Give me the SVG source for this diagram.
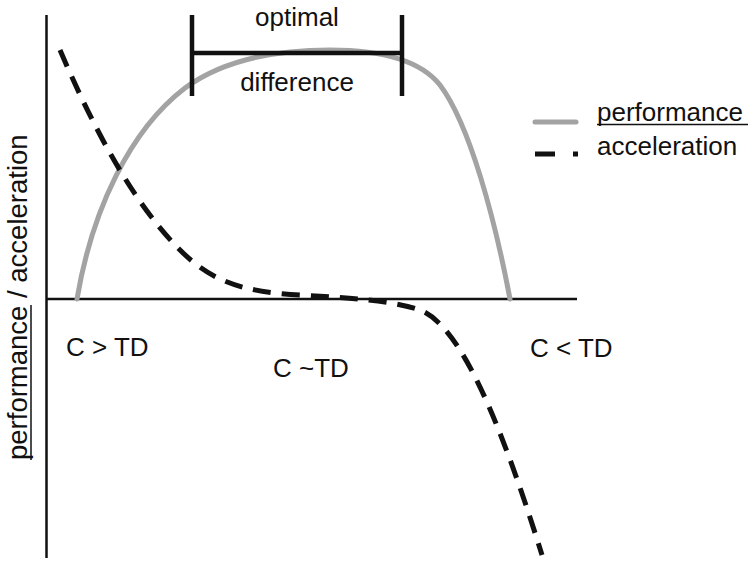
<svg xmlns="http://www.w3.org/2000/svg" width="751" height="561" viewBox="0 0 751 561">
<style>
text{font-family:"Liberation Sans",Arial,sans-serif;font-size:26px;fill:#111}
.axis{stroke:#111;stroke-width:2.5;fill:none}
.perf{stroke:#a3a3a3;stroke-width:5;fill:none;stroke-linecap:round}
.acc{stroke:#111;stroke-width:5;fill:none;stroke-dasharray:18 11}
.br{stroke:#111;stroke-width:4.5;fill:none}
</style>
<rect width="751" height="561" fill="#fff"/>
<g id="axes">
<line class="axis" x1="46.5" y1="15" x2="46.5" y2="558"/>
<line class="axis" x1="46" y1="299" x2="577" y2="299"/>
</g>
<g id="curves">
<path id="performance" class="perf" d="M77,299 C92,210 130,130 185,88 C230,55 290,50 330,50 C380,50 420,60 440,85 C470,125 495,220 510,299"/>
<path id="acceleration" class="acc" d="M60,50 C90,120 130,200 180,250 C210,280 240,292 300,295 C350,298 390,300 420,310 C460,325 500,420 542,555"/>
</g>
<g id="bracket">
<line class="br" x1="192" y1="53" x2="402" y2="53"/>
<line class="br" x1="192" y1="15" x2="192" y2="96"/>
<line class="br" x1="402" y1="15" x2="402" y2="96"/>
<text x="297" y="26" text-anchor="middle">optimal</text>
<text x="297" y="91" text-anchor="middle">difference</text>
</g>
<g id="legend">
<line class="perf" x1="535" y1="122" x2="576" y2="122" stroke-linecap="butt"/>
<text x="597" y="121">performance</text>
<line x1="597" y1="124.5" x2="748" y2="124.5" stroke="#111" stroke-width="1.5"/>
<line class="acc" x1="535" y1="154" x2="578" y2="154" style="stroke-dasharray:20 18"/>
<text x="597" y="155">acceleration</text>
</g>
<g id="ylabel">
<text transform="translate(27,460) rotate(-90)" style="font-size:27.5px">performance / acceleration</text>
<line x1="31" y1="460" x2="31" y2="305" stroke="#111" stroke-width="1.5"/>
</g>
<g id="labels">
<text x="66" y="356">C &gt; TD</text>
<text x="273" y="377">C ~TD</text>
<text x="530" y="357">C &lt; TD</text>
</g>
</svg>
